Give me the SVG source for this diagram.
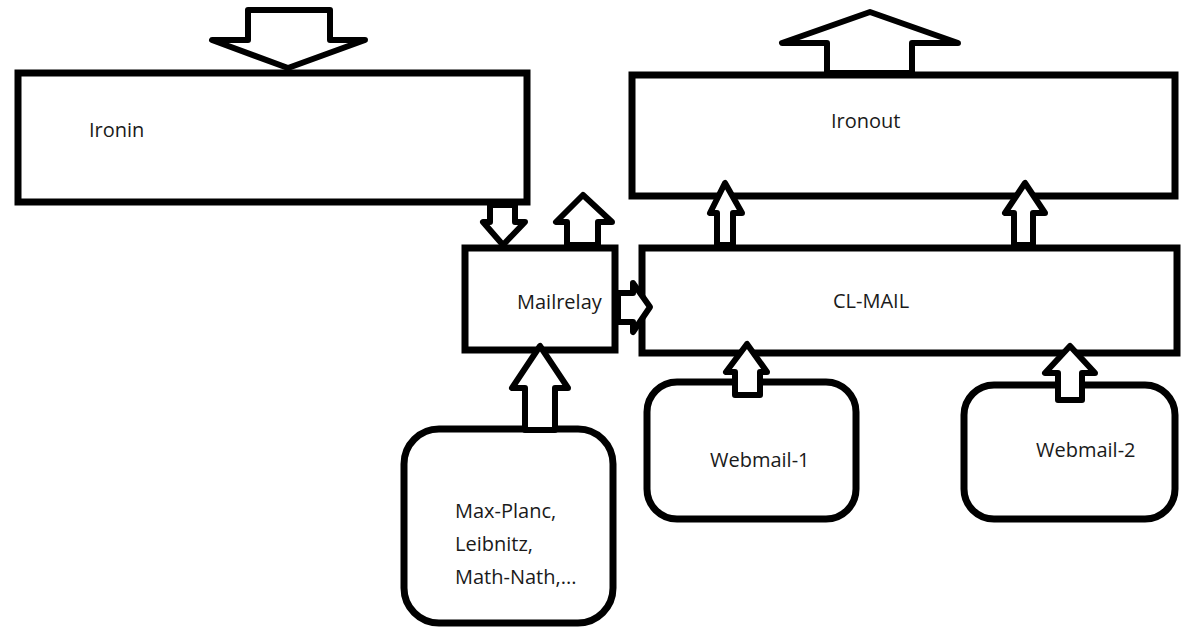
<svg xmlns="http://www.w3.org/2000/svg" width="1188" height="627" viewBox="0 0 1188 627">
<style>
.box{fill:#fff;stroke:#000;stroke-width:7}
.arr{fill:#fff;stroke:#000;stroke-width:6;stroke-linejoin:round}
.t{font-family:"Open Sans","Noto Sans",sans-serif;font-size:20px;fill:#1a1a1a}
</style>
<rect width="1188" height="627" fill="#fff"/>
<g id="ironin"><rect class="box" x="18" y="73" width="509" height="129"/><text class="t" x="89" y="137">Ironin</text></g>
<g id="ironout"><rect class="box" x="632" y="75" width="543" height="121"/><text class="t" x="831" y="128">Ironout</text></g>
<g id="mailrelay"><rect class="box" x="465" y="248" width="150" height="102"/><text class="t" x="517" y="309">Mailrelay</text></g>
<g id="clmail"><rect class="box" x="642" y="248" width="535" height="105"/><text class="t" x="833" y="308">CL-MAIL</text></g>
<g id="webmail1"><rect class="box" x="647" y="382" width="209" height="137" rx="30"/><text class="t" x="710" y="467">Webmail-1</text></g>
<g id="webmail2"><rect class="box" x="964" y="385" width="211" height="134" rx="30"/><text class="t" x="1036" y="457">Webmail-2</text></g>
<g id="institutes"><rect class="box" x="404" y="429" width="209" height="194" rx="35"/><text class="t" x="455" y="518">Max-Planc,</text><text class="t" x="455" y="551">Leibnitz,</text><text class="t" x="455" y="584">Math-Nath,...</text></g>
<g id="connectors">
<polygon class="arr" points="248,10 330,10 330,40 365,40 288,68 212,40 248,40"/>
<polygon class="arr" points="827,73 912,73 912,43 958,43 870,12 782,43 827,43"/>
<polygon class="arr" points="490,205 515,205 515,222 525,222 503,245 483,222 490,222"/>
<polygon class="arr" points="567,245 598,245 598,222 612,222 583,195 556,222 567,222"/>
<polygon class="arr" points="618,293 633,293 633,283 650,307 633,332 633,322 618,322"/>
<polygon class="arr" points="717,245 733,245 733,213 742,213 725,183 710,213 717,213"/>
<polygon class="arr" points="1014,245 1033,245 1033,213 1045,213 1025,183 1005,213 1014,213"/>
<polygon class="arr" points="735,395 760,395 760,372 767,372 747,344 726,372 735,372"/>
<polygon class="arr" points="1058,400 1082,400 1082,373 1095,373 1070,346 1045,373 1058,373"/>
<polygon class="arr" points="525,430 555,430 555,388 568,388 540,346 512,388 525,388"/>
</g>
</svg>
